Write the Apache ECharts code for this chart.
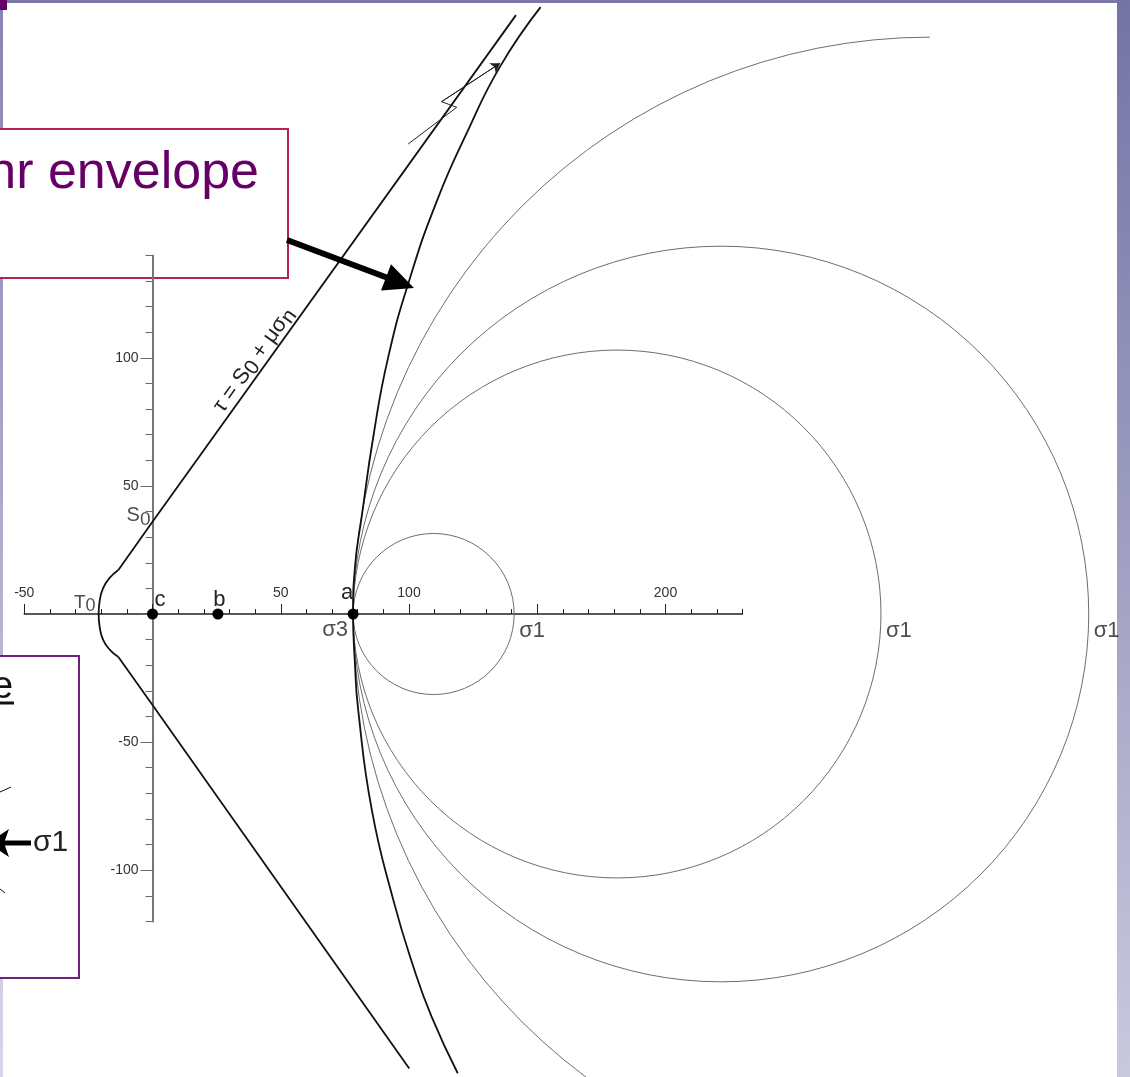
<!DOCTYPE html>
<html><head><meta charset="utf-8">
<script src="https://cdn.jsdelivr.net/npm/echarts@6/dist/echarts.min.js"></script>
<style>html,body{margin:0;padding:0;background:#fff;overflow:hidden}#c{width:1130px;height:1077px}</style>
</head><body><div id="c"></div>
<script>
// ---------- data ----------
const xTickLabels = [-50, 50, 100, 200];
const yTickLabels = [-100, -50, 50, 100];
const pointNames = ['c', 'b', 'a'];
const pointSigma = [0, 25.5, 78.2];
const circleSigma3 = [78.2, 78.2, 78.2, 78.2];
const circleSigma1 = [141, 284, 365, 528];
const envUpperSigma = [151.3, 135.5, 122.5, 111.0, 100.4, 91.9, 86.1, 81.6, 79.0, 78.2];
const envUpperTau   = [236.9, 213.7, 187.7, 161.6, 131.2, 100.3, 69.3, 38.3, 19, 0];
const envLowerSigma = [78.9, 80.2, 85.5, 93.9, 101.7, 108.8, 119.0];
const envLowerTau   = [-19, -37.5, -76.5, -111.7, -137.7, -157.2, -179.3];
const coulombUpperSigma = [141.7, 0, -13.3];
const coulombUpperTau   = [233.8, 36.0, 17.2];
const capSigma = [-13.3, -16.8, -19.3, -20.6, -21.0, -20.6, -19.3, -16.6, -13.3];
const capTau   = [17.2, 14.0, 10.0, 5.0, 0, -5.0, -10.0, -14.0, -16.8];
const coulombLowerSigma = [-13.3, 0, 100.1];
const coulombLowerTau   = [-16.8, -35.5, -177.4];
const fracSigma = [99.7, 118.6, 112.7, 135.5];
const fracTau   = [183.5, 197.8, 200.0, 215.0];
const T0 = -21.0, S0 = 36.0;

// ---------- layout ----------
const PXX = 2.565, PXY = 2.5615, X0 = 152.5, Y0 = 614, W = 1130, H = 1077;
const zip = (a, b) => a.map((v, i) => [v, b[i]]);
const FONT = '"Liberation Sans", Arial, sans-serif';
const txt = '#222';

const chart = echarts.init(document.getElementById('c'), null, {renderer: 'canvas'});

const envelope = zip(envUpperSigma, envUpperTau).concat(zip(envLowerSigma, envLowerTau));

const option = {
  animation: false,
  backgroundColor: '#fff',
  textStyle: {fontFamily: FONT},
  grid: [
    {left: 0, right: 0, top: 0, bottom: 0},
    {left: X0 - 50 * PXX, width: 280 * PXX, top: Y0 - 100, height: 100},
    {left: X0 - 50 * PXX, width: 250 * PXX, top: Y0 - 100, height: 100},
    {left: X0, width: 100, top: Y0 - 140 * PXY, height: 260 * PXY},
    {left: X0, width: 100, top: Y0 - 100 * PXY, height: 200 * PXY}
  ],
  xAxis: [
    {gridIndex: 0, type: 'value', min: -X0 / PXX, max: (W - X0) / PXX, show: false},
    {gridIndex: 1, type: 'value', min: -50, max: 230, interval: 10,
      axisLine: {show: true, onZero: false, lineStyle: {color: '#222', width: 1.5}},
      axisTick: {show: true, inside: true, length: 5, lineStyle: {color: '#222', width: 1}},
      axisLabel: {show: false}, splitLine: {show: false}},
    {gridIndex: 2, type: 'value', min: -50, max: 200, interval: 50,
      axisLine: {show: false, onZero: false},
      axisTick: {show: true, inside: true, length: 10, lineStyle: {color: '#222', width: 1}},
      axisLabel: {show: true, inside: true, margin: 14, fontSize: 14, color: '#333', fontFamily: FONT,
        formatter: v => xTickLabels.includes(v) ? String(v) : ''},
      splitLine: {show: false}},
    {gridIndex: 3, type: 'value', min: 0, max: 1, show: false},
    {gridIndex: 4, type: 'value', min: 0, max: 1, show: false}
  ],
  yAxis: [
    {gridIndex: 0, type: 'value', min: -(H - Y0) / PXY, max: Y0 / PXY, show: false},
    {gridIndex: 1, type: 'value', min: 0, max: 1, show: false},
    {gridIndex: 2, type: 'value', min: 0, max: 1, show: false},
    {gridIndex: 3, type: 'value', min: -120, max: 140, interval: 10, position: 'left',
      axisLine: {show: true, onZero: false, lineStyle: {color: '#777', width: 2}},
      axisTick: {show: true, length: 7, lineStyle: {color: '#666', width: 1}},
      axisLabel: {show: false}, splitLine: {show: false}},
    {gridIndex: 4, type: 'value', min: -100, max: 100, interval: 50, position: 'left',
      axisLine: {show: false, onZero: false},
      axisTick: {show: true, length: 12, lineStyle: {color: '#666', width: 1}},
      axisLabel: {show: true, margin: 14, fontSize: 14, color: '#333', fontFamily: FONT,
        formatter: v => yTickLabels.includes(v) ? String(v) : ''},
      splitLine: {show: false}}
  ],
  series: [
    { // Mohr circles
      type: 'custom', xAxisIndex: 0, yAxisIndex: 0, silent: true, z: 1,
      data: circleSigma3.map((s3, i) => [s3, circleSigma1[i], i]),
      renderItem: function (params, api) {
        const s3 = api.value(0), s1 = api.value(1), i = api.value(2);
        const c = api.coord([(s3 + s1) / 2, 0]);
        const r = api.size([(s1 - s3) / 2, 0])[0];
        const partial = i === circleSigma3.length - 1;
        return {
          type: 'arc',
          shape: {cx: c[0], cy: c[1], r: r,
            startAngle: partial ? Math.PI / 2 : 0,
            endAngle: partial ? Math.PI * 1.5 : Math.PI * 2, clockwise: true},
          style: {stroke: '#6e6e6e', fill: 'none', lineWidth: 1}
        };
      }
    },
    { // curved Mohr envelope
      type: 'line', xAxisIndex: 0, yAxisIndex: 0, data: envelope, smooth: 0.5,
      symbol: 'none', lineStyle: {color: '#111', width: 1.8}, z: 3
    },
    {type: 'line', data: zip(coulombUpperSigma, coulombUpperTau), symbol: 'none',
      lineStyle: {color: '#111', width: 1.8}, z: 3},
    {type: 'line', data: zip(capSigma, capTau), symbol: 'none', smooth: 0.5,
      lineStyle: {color: '#111', width: 1.8}, z: 3},
    {type: 'line', data: zip(coulombLowerSigma, coulombLowerTau), symbol: 'none',
      lineStyle: {color: '#111', width: 1.8}, z: 3},
    { // fracture symbol
      type: 'line', data: zip(fracSigma, fracTau), symbol: 'none',
      lineStyle: {color: '#222', width: 1}, z: 3,
      markLine: {silent: true, symbol: ['none', 'arrow'], symbolSize: 9, label: {show: false},
        lineStyle: {color: '#222', width: 1, type: 'solid'},
        data: [[{coord: [fracSigma[2], fracTau[2]]}, {coord: [fracSigma[3], fracTau[3]]}]]}
    },
    { // points a, b, c
      type: 'scatter', symbol: 'circle', symbolSize: 11, itemStyle: {color: '#000', opacity: 1}, z: 5,
      data: pointSigma.map((s, i) => ({
        value: [s, 0], name: pointNames[i],
        label: {show: true, formatter: pointNames[i], position: 'inside', fontSize: 22, color: txt,
          offset: [[7.5, -14.5], [1.5, -14], [-6, -21.5]][i]}
      }))
    },
    { // sigma1 labels
      type: 'scatter', symbolSize: 0, z: 5,
      data: circleSigma1.slice(0, 3).map(s => ({value: [s, 0],
        label: {show: true, formatter: 'σ1', position: 'inside', align: 'left', fontSize: 22, color: txt, offset: [5, 17]}}))
    },
    { // other labels
      type: 'scatter', symbolSize: 0, z: 5,
      data: [
        {value: [circleSigma3[0], 0], label: {show: true, formatter: 'σ3', position: 'inside', align: 'right', fontSize: 22, color: txt, offset: [-5, 16]}},
        {value: [T0, 0], label: {show: true, formatter: '{m|T}{s|0}', position: 'inside', align: 'right', offset: [-3, -11],
          rich: {m: {fontSize: 19, color: txt}, s: {fontSize: 18, color: txt, padding: [7, 0, 0, 0]}}}},
        {value: [0, S0], label: {show: true, formatter: '{m|S}{s|0}', position: 'inside', align: 'right', offset: [-2, -6],
          rich: {m: {fontSize: 20, color: txt}, s: {fontSize: 19, color: txt, padding: [7, 0, 0, 0]}}}}
      ]
    }
  ],
  graphic: [
    // slide frame
    {type: 'rect', z: -20, shape: {x: 0, y: 0, width: W, height: 3}, style: {fill: '#7a79a9'}},
    {type: 'rect', z: -20, shape: {x: 0, y: 0, width: 3, height: H},
      style: {fill: new echarts.graphic.LinearGradient(0, 0, 0, 1, [{offset: 0, color: '#8584b4'}, {offset: 1, color: '#d6d6ea'}])}},
    {type: 'rect', z: -20, shape: {x: 1117, y: 0, width: 13, height: H},
      style: {fill: new echarts.graphic.LinearGradient(0, 0, 0, 1, [{offset: 0, color: '#7473a5'}, {offset: 1, color: '#c9c9de'}])}},
    {type: 'rect', z: -15, shape: {x: 0, y: 0, width: 7, height: 10}, style: {fill: '#660066'}},
    // upper text box
    {type: 'rect', z: -10, shape: {x: -3, y: 129, width: 291, height: 149}, style: {fill: '#fff', stroke: '#b5224a', lineWidth: 2}},
    {type: 'text', z: -9, x: 259, y: 174, style: {text: 'Mohr envelope', font: '52px ' + FONT, fill: '#660066', align: 'right', verticalAlign: 'middle'}},
    {type: 'line', z: 6, shape: {x1: 287, y1: 240, x2: 388, y2: 278}, style: {stroke: '#000', lineWidth: 6}},
    {type: 'polygon', z: 6, shape: {points: [[414, 288], [381, 290.5], [391, 264.3]]}, style: {fill: '#000'}},
    // lower text box
    {type: 'rect', z: -10, shape: {x: -3, y: 656, width: 82, height: 322}, style: {fill: '#fff', stroke: '#6e1f80', lineWidth: 2}},
    {type: 'text', z: -9, x: -8, y: 688, style: {text: 'e', font: '38px ' + FONT, fill: '#111', align: 'left', verticalAlign: 'middle'}},
    {type: 'line', z: -9, shape: {x1: 0, y1: 703, x2: 14, y2: 703}, style: {stroke: '#111', lineWidth: 3}},
    {type: 'line', z: -9, shape: {x1: 0, y1: 792, x2: 11, y2: 787}, style: {stroke: '#111', lineWidth: 1}},
    {type: 'line', z: -9, shape: {x1: 0, y1: 889, x2: 5, y2: 893}, style: {stroke: '#111', lineWidth: 1}},
    {type: 'line', z: -9, shape: {x1: 4, y1: 843, x2: 31, y2: 843}, style: {stroke: '#000', lineWidth: 5}},
    {type: 'polygon', z: -9, shape: {points: [[-12, 843], [9, 829], [4, 843], [9, 857]]}, style: {fill: '#000'}},
    {type: 'text', z: -9, x: 33, y: 843, style: {text: 'σ1', font: '30px ' + FONT, fill: '#222', align: 'left', verticalAlign: 'middle'}},
    // equation label along the Coulomb line
    {type: 'text', z: 6, x: 254, y: 360, rotation: 54.4 * Math.PI / 180,
      style: {text: '{t|τ = S}{s|0}{t| + μσ}{s|n}', align: 'center', verticalAlign: 'middle',
        rich: {t: {fontSize: 22, fill: '#222', fontFamily: FONT}, s: {fontSize: 21, fill: '#222', fontFamily: FONT, padding: [7, 0, 0, 0]}}}}
  ]
};
chart.setOption(option);
</script></body></html>
